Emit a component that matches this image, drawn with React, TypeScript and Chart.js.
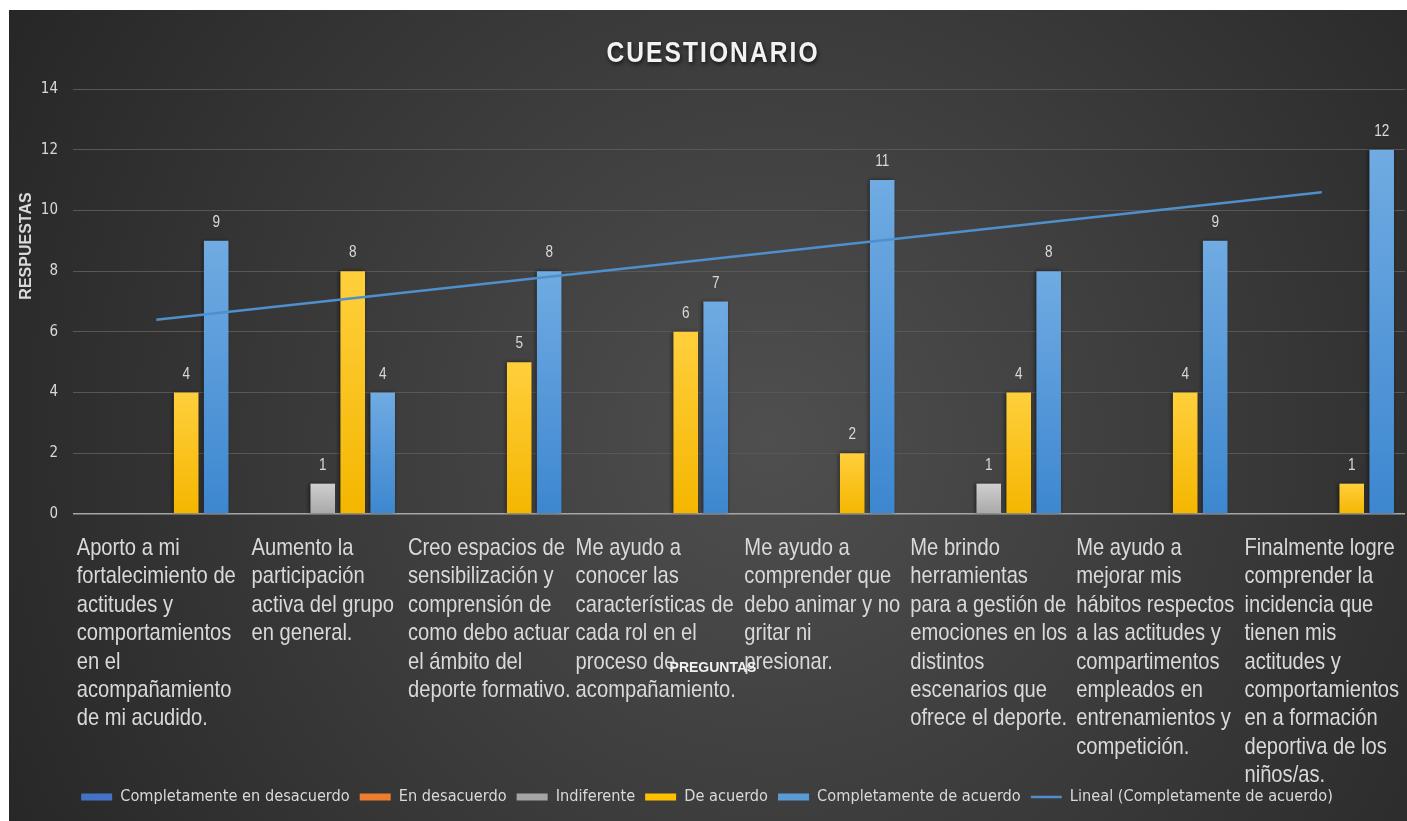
import React, { useEffect, useRef } from "react";
import { Chart, registerables } from "chart.js";

Chart.register(...registerables);

// ---------- data ----------
const categories: string[][] = [
  ["Aporto a mi", "fortalecimiento de", "actitudes y", "comportamientos", "en el", "acompañamiento", "de mi acudido."],
  ["Aumento la", "participación", "activa del grupo", "en general."],
  ["Creo espacios de", "sensibilización y", "comprensión de", "como debo actuar", "el ámbito del", "deporte formativo."],
  ["Me ayudo a", "conocer las", "características de", "cada rol en el", "proceso de", "acompañamiento."],
  ["Me ayudo a", "comprender que", "debo animar y no", "gritar ni", "presionar."],
  ["Me brindo", "herramientas", "para a gestión de", "emociones en los", "distintos", "escenarios que", "ofrece el deporte."],
  ["Me ayudo a", "mejorar mis", "hábitos respectos", "a las actitudes y", "compartimentos", "empleados en", "entrenamientos y", "competición."],
  ["Finalmente logre", "comprender la", "incidencia que", "tienen mis", "actitudes y", "comportamientos", "en a formación", "deportiva de los", "niños/as."],
];

const seriesNames = [
  "Completamente en desacuerdo",
  "En desacuerdo",
  "Indiferente",
  "De acuerdo",
  "Completamente de acuerdo",
];
const trendName = "Lineal (Completamente de acuerdo)";

const completamenteEnDesacuerdo = [0, 0, 0, 0, 0, 0, 0, 0];
const enDesacuerdo = [0, 0, 0, 0, 0, 0, 0, 0];
const indiferente = [0, 1, 0, 0, 0, 1, 0, 0];
const deAcuerdo = [4, 8, 5, 6, 2, 4, 4, 1];
const completamenteDeAcuerdo = [9, 4, 8, 7, 11, 8, 9, 12];
// trend line: start and end values
const tendenciaLineal: (number | null)[] = [6.4, null, null, null, null, null, null, 10.6];

const yMin = 0;
const yMax = 14;
const yStep = 2;

const chartTitle = "CUESTIONARIO";
const yTitle = "RESPUESTAS";
const xTitle = "PREGUNTAS";

// ---------- styles ----------
const COND = "'DejaVu Sans Condensed', 'DejaVu Sans', sans-serif";
const SANS = "'Liberation Sans', Arial, sans-serif";
const TEXT = "#d9d9d9";

const seriesColors = ["#4472c4", "#ed7d31", "#a5a5a5", "#ffc000", "#5b9bd5"];
const gradTop = ["#5a86d0", "#f29350", "#cfcfcf", "#ffcf3c", "#70abe2"];
const gradBottom = ["#3c68b8", "#e0701f", "#a8a8a8", "#f4b600", "#3d87d0"];
const trendColor = "#4f8fcc";

function barGradient(i: number) {
  return (c: any) => {
    const chart = c.chart;
    if (!chart.chartArea || c.type !== "data") return seriesColors[i];
    const y = chart.scales.y;
    const v = c.raw;
    const yTop = y.getPixelForValue(v);
    const yBot = y.getPixelForValue(0);
    if (!(yBot - yTop > 0)) return seriesColors[i];
    const g = chart.ctx.createLinearGradient(0, yTop, 0, yBot);
    g.addColorStop(0, gradTop[i]);
    g.addColorStop(1, gradBottom[i]);
    return g;
  };
}

// draw text horizontally condensed (emulates a narrow face)
function narrowText(ctx: CanvasRenderingContext2D, text: string, x: number, y: number, sx: number) {
  ctx.save();
  ctx.translate(x, y);
  ctx.scale(sx, 1);
  ctx.fillText(text, 0, 0);
  ctx.restore();
}

const decorPlugin = {
  id: "decor",
  beforeDraw(chart: any) {
    const { ctx, width, height } = chart;
    ctx.save();
    const g = ctx.createRadialGradient(760, 430, 0, 760, 430, 880);
    g.addColorStop(0, "#4f4f4f");
    g.addColorStop(1, "#262626");
    ctx.fillStyle = g;
    ctx.fillRect(0, 0, width, height);
    ctx.restore();
  },
  beforeDatasetDraw(chart: any, args: any) {
    if (args.index > 4) return;
    const { ctx } = chart;
    ctx.save();
    ctx.shadowColor = "rgba(0,0,0,0.55)";
    ctx.shadowBlur = 4;
    ctx.shadowOffsetX = -1;
    ctx.shadowOffsetY = 0;
  },
  afterDatasetDraw(chart: any, args: any) {
    if (args.index > 4) return;
    chart.ctx.restore();
  },
  afterDatasetsDraw(chart: any) {
    const { ctx } = chart;
    ctx.save();
    ctx.font = `17px ${SANS}`;
    ctx.fillStyle = TEXT;
    ctx.textAlign = "center";
    ctx.textBaseline = "alphabetic";
    for (let d = 0; d < 5; d++) {
      const meta = chart.getDatasetMeta(d);
      const data = chart.data.datasets[d].data as number[];
      meta.data.forEach((bar: any, i: number) => {
        const v = data[i];
        if (!v) return;
        narrowText(ctx, String(v), bar.x, bar.y - 14, 0.8);
      });
    }
    ctx.restore();
  },
  afterDraw(chart: any) {
    const { ctx, chartArea } = chart;
    const xs = chart.scales.x;
    ctx.save();
    // title
    ctx.font = `bold 30px ${SANS}`;
    (ctx as any).letterSpacing = "2.5px";
    ctx.textAlign = "center";
    ctx.textBaseline = "alphabetic";
    ctx.shadowColor = "rgba(0,0,0,0.7)";
    ctx.shadowBlur = 4;
    ctx.shadowOffsetX = 1;
    ctx.shadowOffsetY = 2;
    ctx.fillStyle = "#f2f2f2";
    narrowText(ctx, chartTitle, 704, 52, 0.82);
    (ctx as any).letterSpacing = "0px";
    ctx.shadowColor = "transparent";
    ctx.shadowBlur = 0;
    ctx.shadowOffsetX = 0;
    ctx.shadowOffsetY = 0;

    // y title
    ctx.save();
    ctx.translate(18, 236);
    ctx.rotate(-Math.PI / 2);
    ctx.font = `bold 16px ${SANS}`;
    ctx.fillStyle = TEXT;
    ctx.textAlign = "center";
    ctx.textBaseline = "middle";
    ctx.fillText(yTitle, 0, 0);
    ctx.restore();

    // category labels: left-aligned lines in a block centred on the category
    const sx = 0.84;
    ctx.font = `24px ${SANS}`;
    ctx.fillStyle = TEXT;
    ctx.textAlign = "left";
    ctx.textBaseline = "alphabetic";
    categories.forEach((lines, i) => {
      const cx = xs.getPixelForValue(i);
      const w = Math.max(...lines.map((l) => ctx.measureText(l).width)) * sx;
      const left = cx - w / 2;
      lines.forEach((l, j) => narrowText(ctx, l, left, chartArea.bottom + 41 + j * 28.4, sx));
    });

    // x title
    ctx.font = `bold 14px ${SANS}`;
    ctx.fillStyle = "#f2f2f2";
    ctx.textAlign = "center";
    ctx.textBaseline = "middle";
    ctx.fillText(xTitle, 704, 658);
    ctx.restore();
  },
};

export default function App() {
  const ref = useRef<HTMLCanvasElement | null>(null);

  useEffect(() => {
    if (!ref.current) return;
    const labels = categories.map((c) => c.join(" "));
    const seriesData = [completamenteEnDesacuerdo, enDesacuerdo, indiferente, deAcuerdo, completamenteDeAcuerdo];
    const barSets = seriesData.map((data, i) => ({
      type: "bar" as const,
      label: seriesNames[i],
      data,
      backgroundColor: barGradient(i),
      borderWidth: 0,
      categoryPercentage: 0.9,
      barPercentage: 0.82,
      order: 1,
    }));
    const legendColors = [...seriesColors, trendColor];

    const chart = new Chart(ref.current, {
      type: "bar",
      data: {
        labels,
        datasets: [
          ...barSets,
          {
            type: "line" as const,
            label: trendName,
            data: tendenciaLineal,
            borderColor: trendColor,
            backgroundColor: trendColor,
            borderWidth: 2.5,
            pointRadius: 0,
            spanGaps: true,
            order: 0,
          } as any,
        ],
      },
      options: {
        animation: false,
        responsive: false,
        layout: { padding: { top: 79, left: 0, right: 2, bottom: 6 } },
        plugins: {
          title: { display: false },
          tooltip: { enabled: false },
          legend: {
            display: true,
            position: "bottom",
            labels: {
              usePointStyle: true,
              pointStyleWidth: 31,
              boxHeight: 7,
              padding: 10,
              color: TEXT,
              font: { family: COND, size: 16.2 },
              sort: (a: any, b: any) => a.datasetIndex - b.datasetIndex,
              generateLabels: (chart: any) =>
                chart.data.datasets.map((ds: any, i: number) => ({
                  text: ds.label,
                  fillStyle: legendColors[i],
                  strokeStyle: legendColors[i],
                  lineWidth: i === 5 ? 2.5 : 0,
                  pointStyle: i === 5 ? "line" : "rect",
                  hidden: false,
                  datasetIndex: i,
                  fontColor: TEXT,
                })),
            },
          },
        },
        scales: {
          x: {
            grid: { display: false },
            border: { display: false },
            ticks: { display: false },
            afterFit: (scale: any) => {
              scale.height = 264.8;
            },
          },
          y: {
            min: yMin,
            max: yMax,
            ticks: {
              stepSize: yStep,
              color: TEXT,
              padding: 15,
              font: { family: COND, size: 15 },
            },
            border: { display: false },
            grid: {
              drawTicks: false,
              color: (c: any) => (c.tick && c.tick.value === 0 ? "#a6a6a6" : "#575757"),
              lineWidth: (c: any) => (c.tick && c.tick.value === 0 ? 1.5 : 1),
            },
            afterFit: (scale: any) => {
              scale.width = 64;
            },
          },
        },
      },
      plugins: [decorPlugin],
    });
    return () => chart.destroy();
  }, []);

  return (
    <div style={{ position: "fixed", left: 9, top: 10, width: 1398, height: 811 }}>
      <canvas ref={ref} width={1398} height={811} style={{ display: "block", width: 1398, height: 811 }} />
    </div>
  );
}
